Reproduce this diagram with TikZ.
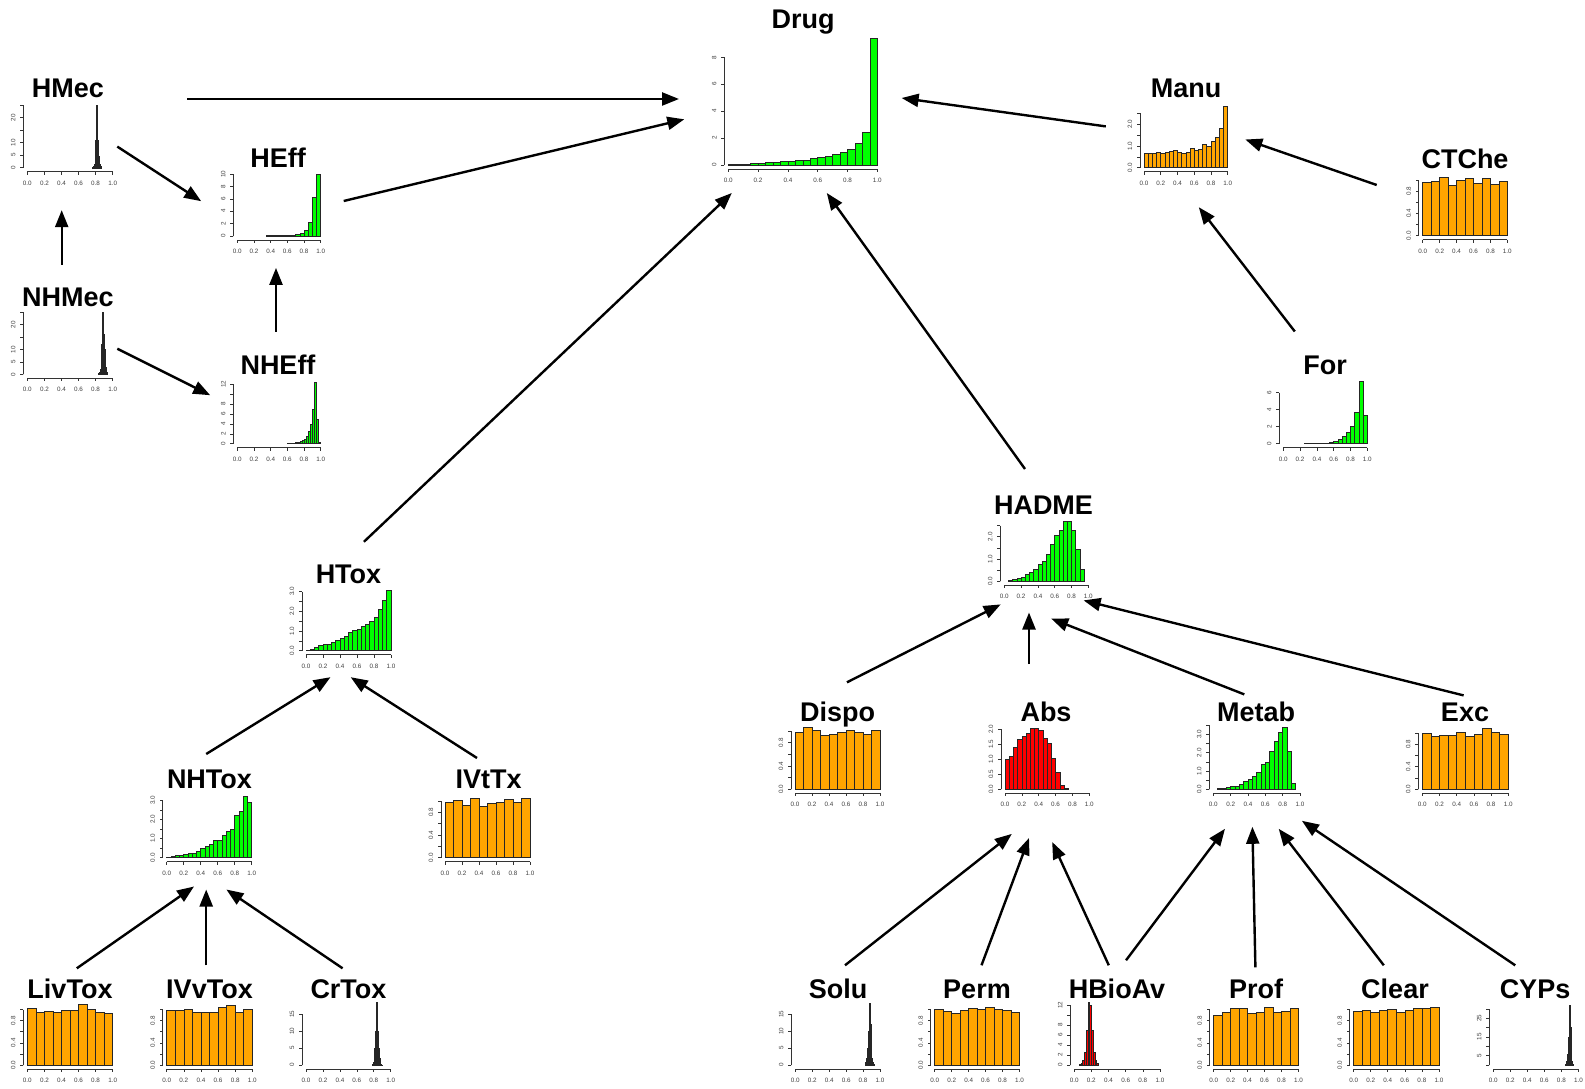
\documentclass[tikz,border=0pt]{standalone}
\usepackage{fontspec}
\setmainfont{Liberation Sans}
\usetikzlibrary{arrows.meta}
\definecolor{rgreen}{HTML}{00FF00}
\definecolor{rorange}{HTML}{FFA500}
\definecolor{rred}{HTML}{FF0000}
\tikzset{
  ttl/.style={font=\fontsize{27}{27}\selectfont\bfseries, inner sep=0pt, anchor=base},
  tick/.style={font=\fontsize{6.3}{6.3}\selectfont, text=black!75, inner sep=0pt},
  axl/.style={draw=black!80, line width=0.6pt},
  bar/.style={draw=black!85},
  conn/.style={line width=2.4pt, -{Triangle[length=17pt,width=13pt]}},
}
\newcommand\hist[9]{%
  \pgfmathsetmacro\hW{#2-#1}%
  \ifdim #7pt<0.015pt \def\blw{0.3pt}\else\def\blw{0.6pt}\fi
  \foreach \hh [count=\hidx from 0] in {#8}{%
    \filldraw[bar, fill=#5, line width=\blw]
      ({#1+(#6+\hidx*#7)*\hW},{#3}) rectangle ({#1+(#6+(\hidx+1)*#7)*\hW},{#3-\hh*#4});
  }%
  \draw[axl] (#1,{#3+4}) -- (#2,{#3+4});
  \foreach \xv/\xl in {0/0.0,0.2/0.2,0.4/0.4,0.6/0.6,0.8/0.8,1/1.0}{%
    \draw[axl] ({#1+\xv*\hW},{#3+4}) -- ++(0,3);
    \node[tick] at ({#1+\xv*\hW},{#3+15.5}) {\xl};
  }%
  \edef\hticks{#9}%
  \foreach \yv/\ylab in \hticks {%
    \draw[axl] ({#1-4},{#3}) -- ({#1-4},{#3-\yv*#4});
    \draw[axl] ({#1-4},{#3-\yv*#4}) -- ++(-3,0);
    \node[tick,rotate=90] at ({#1-14},{#3-\yv*#4}) {\ylab};
  }%
}
\begin{document}
\begin{tikzpicture}[x=1pt,y=-1pt]
\useasboundingbox (0,0) rectangle (1585,1089);
\fill[white] (0,0) rectangle (1585,1089);

% ---------- titles ----------
\node[ttl] (drug)   at (803,29)    {Drug};
\node[ttl] (hmec)   at (68,97.5)   {HMec};
\node[ttl] (heff)   at (278,167.5) {HEff};
\node[ttl] (nhmec)  at (68,306)    {NHMec};
\node[ttl] (nheff)  at (278,374.5) {NHEff};
\node[ttl] (manu)   at (1186,98)   {Manu};
\node[ttl] (ctche)  at (1465,168)  {CTChe};
\node[ttl] (for)    at (1325,374.5){For};
\node[ttl] (hadme)  at (1043.5,514.5){HADME};
\node[ttl] (htox)   at (348.5,583.5){HTox};
\node[ttl] (dispo)  at (837.5,721) {Dispo};
\node[ttl] (abs)    at (1046,721)  {Abs};
\node[ttl] (metab)  at (1256,721)  {Metab};
\node[ttl] (exc)    at (1465,721)  {Exc};
\node[ttl] (nhtox)  at (209.5,788.5){NHTox};
\node[ttl] (ivttx)  at (488.5,788.5){IVtTx};
\node[ttl] (livtox) at (70,998)    {LivTox};
\node[ttl] (ivvtox) at (209.5,998) {IVvTox};
\node[ttl] (crtox)  at (348.5,998) {CrTox};
\node[ttl] (solu)   at (838,998)   {Solu};
\node[ttl] (perm)   at (977,998)   {Perm};
\node[ttl] (hbioav) at (1117,998)  {HBioAv};
\node[ttl] (prof)   at (1256,998)  {Prof};
\node[ttl] (clear)  at (1395,998)  {Clear};
\node[ttl] (cyps)   at (1535,998)  {CYPs};

% ---------- histograms ----------
\hist{728.3}{877.3}{165}{13.46}{rgreen}{0}{0.05}{.02,.05,.08,.12,.16,.2,.22,.25,.28,.32,.38,.48,.55,.68,.82,.98,1.15,1.58,2.4,9.4}{0/0,2/2,4/4,6/6,8/8}
\hist{27.3}{112.7}{167.7}{2.5}{rgreen}{0.76}{0.01}{0.3,0.8,1.5,4.5,11,25,11,4.5,1.5,0.8,0.3}{0/0,5/5,10/10,15/{},20/20,25/{}}
\hist{237.3}{320.7}{236}{6.2}{rgreen}{0.35}{0.05}{.05,.05,.05,.05,.05,.1,.1,.2,.4,.9,2.2,6.2,9.9}{0/0,2/2,4/4,6/6,8/8,10/10}
\hist{27.3}{112.7}{374.3}{2.48}{rgreen}{0.83}{0.01}{0.3,0.8,2,5,12,25,16,10,3,0.8,0.3}{0/0,5/5,10/10,15/{},20/20,25/{}}
\hist{237.3}{320.7}{443.7}{4.94}{rgreen}{0.6}{0.025}{.1,.1,.1,.15,.2,.3,.4,.6,.9,1.5,2.5,4,7,12.5,5,.2}{0/0,2/2,4/4,6/6,8/8,10/{},12/12}
\hist{1144}{1227.7}{167.7}{21.7}{rorange}{0}{0.05}{.68,.68,.65,.72,.65,.72,.76,.8,.72,.65,.72,.9,.82,.86,1.08,1.0,1.2,1.42,1.8,2.85}{0/0.0,0.5/{},1/1.0,1.5/{},2/2.0,2.5/{}}
\hist{1422.7}{1507.3}{235.7}{55.8}{rorange}{0}{0.1}{.96,.98,1.04,.9,1.0,1.03,.94,1.03,.92,.98}{0/0.0,0.2/{},0.4/0.4,0.6/{},0.8/0.8,1/{}}
\hist{1283.3}{1367.3}{443.7}{8.5}{rgreen}{0.25}{0.05}{.05,.05,.05,.05,.05,.1,.15,.3,.5,.9,1.4,2.1,3.7,7.3,3.4}{0/0,2/2,4/4,6/6}
\hist{1004.3}{1088.3}{581.3}{22.3}{rgreen}{0.05}{0.05}{.05,.1,.15,.2,.3,.4,.55,.75,.9,1.2,1.65,2.05,2.3,2.7,2.7,2.3,1.45,.55}{0/0.0,0.5/{},1/1.0,1.5/{},2/2.0,2.5/{}}
\hist{306}{391}{650.7}{19.7}{rgreen}{0}{0.05}{.02,.08,.15,.25,.3,.3,.45,.55,.65,.75,.95,1.05,1.1,1.25,1.35,1.5,1.7,2.1,2.55,3.05}{0/0.0,0.5/{},1/1.0,1.5/{},2/2.0,2.5/{},3/3.0}
\hist{795}{880}{789.3}{58.3}{rorange}{0}{0.1}{.98,1.06,1.02,.93,.95,.97,1.02,.97,.94,1.02}{0/0.0,0.2/{},0.4/0.4,0.6/{},0.8/0.8,1/{}}
\hist{1005}{1089.3}{789.3}{30}{rred}{0}{0.05}{1.0,1.1,1.4,1.67,1.78,1.87,2.03,2.05,1.98,1.7,1.52,1.04,.57,.14,.02}{0/0.0,0.5/0.5,1/1.0,1.5/1.5,2/2.0}
\hist{1213.3}{1300}{789.3}{18.3}{rgreen}{0.05}{0.05}{.03,.05,.1,.15,.15,.3,.45,.55,.7,.95,1.35,1.5,2.1,2.65,3.1,3.4,2.05,.35}{0/0.0,0.5/{},1/1.0,1.5/{},2/2.0,2.5/{},3/3.0,3.5/{}}
\hist{1422.3}{1508.3}{789.3}{56.3}{rorange}{0}{0.1}{.99,.94,.96,.96,1.02,.95,.98,1.08,1.02,.98}{0/0.0,0.2/{},0.4/0.4,0.6/{},0.8/0.8,1/{}}
\hist{166.7}{251.7}{857.7}{19.1}{rgreen}{0}{0.05}{.03,.05,.1,.15,.2,.25,.25,.35,.5,.6,.7,.9,.9,1.15,1.4,1.5,2.2,2.45,3.2,2.9}{0/0.0,0.5/{},1/1.0,1.5/{},2/2.0,2.5/{},3/3.0}
\hist{445}{530}{857.7}{56.7}{rorange}{0}{0.1}{.97,1.01,.93,1.05,.91,.96,.98,1.03,.97,1.04}{0/0.0,0.2/{},0.4/0.4,0.6/{},0.8/0.8,1/{}}
\hist{27.3}{112.7}{1065}{55.4}{rorange}{0}{0.1}{1.02,.96,.97,.96,.98,.99,1.1,1.01,.95,.93}{0/0.0,0.2/{},0.4/0.4,0.6/{},0.8/0.8,1/{}}
\hist{166.7}{252.3}{1065}{55.4}{rorange}{0}{0.1}{.98,.99,1.0,.96,.96,.96,1.05,1.07,.95,1.01}{0/0.0,0.2/{},0.4/0.4,0.6/{},0.8/0.8,1/{}}
\hist{306}{390.7}{1065}{3.38}{rgreen}{0.78}{0.01}{0.3,0.8,2,5,10,18.5,10,5,2,0.8,0.3,0.1}{0/0,5/5,10/10,15/15}
\hist{795.3}{880}{1065}{3.4}{rgreen}{0.82}{0.01}{0.3,0.8,2,5,10,18.3,12,5,2,0.8,0.3}{0/0,5/5,10/10,15/15}
\hist{934.7}{1019.5}{1065}{55.4}{rorange}{0}{0.1}{1.0,.97,.93,.99,1.02,1.0,1.05,1.0,.98,.96}{0/0.0,0.2/{},0.4/0.4,0.6/{},0.8/0.8,1/{}}
\hist{1074.2}{1160}{1065}{5}{rred}{0.06}{0.02}{0.1,0.3,1,2.5,7,12.5,12,7,2.5,1,0.3}{0/0,2/2,4/4,6/6,8/8,10/{},12/12}
\hist{1213.7}{1298.4}{1065}{55.4}{rorange}{0}{0.1}{.9,.96,1.03,1.03,.94,.96,1.04,.95,.97,1.02}{0/0.0,0.2/{},0.4/0.4,0.6/{},0.8/0.8,1/{}}
\hist{1353.7}{1438.9}{1065}{55.4}{rorange}{0}{0.1}{.97,.98,.96,.98,1.0,.95,.99,1.02,1.03,1.05}{0/0.0,0.2/{},0.4/0.4,0.6/{},0.8/0.8,1/{}}
\hist{1493.2}{1578.4}{1065}{1.87}{black}{0.85}{0.01}{0.5,2,6,15,32,20,8,2,0.5}{0/{},5/5,10/{},15/15,20/{},25/25,30/{}}

% ---------- connector end points ----------
\coordinate (hmecOut)  at (187,99);     \coordinate (drugInA) at (679,99);
\coordinate (heffOut)  at (343.7,201);  \coordinate (drugInB) at (684.3,119.3);
\coordinate (htoxOut)  at (363.9,541.8);\coordinate (drugInC) at (731.8,193);
\coordinate (hadmeOut) at (1025,469);   \coordinate (drugInD) at (826.8,193);
\coordinate (manuOut)  at (1105.8,126.4);\coordinate (drugInE) at (901.6,98);
\coordinate (ctcheOut) at (1376.7,185); \coordinate (manuInA) at (1245.3,139.5);
\coordinate (forOut)   at (1294.8,331.5);\coordinate (manuInB) at (1198.8,207.2);
\coordinate (hmecOutB) at (117.3,146.6);\coordinate (heffInA) at (201.2,201.2);
\coordinate (nhmecOutA) at (61.7,264.8);\coordinate (hmecIn) at (61.7,210.2);
\coordinate (nheffOut) at (276,331.5);  \coordinate (heffInB) at (276,267.9);
\coordinate (nhmecOutB) at (117.3,348.7);\coordinate (nheffIn) at (210.2,395.2);
\coordinate (nhtoxOut) at (206.2,754);  \coordinate (htoxInA) at (330.5,677.2);
\coordinate (ivttxOut) at (477,758);    \coordinate (htoxInB) at (350.7,677.2);
\coordinate (livtoxOut) at (76.8,968.3);\coordinate (nhtoxInA) at (194,886.5);
\coordinate (ivvtoxOut) at (206.2,965.3);\coordinate (nhtoxInB) at (206.2,889.5);
\coordinate (crtoxOut) at (342.6,968.3);\coordinate (nhtoxInC) at (226.4,889.5);
\coordinate (dispoOut) at (847,682.3);  \coordinate (hadmeInA) at (1000.7,604.4);
\coordinate (absOut)   at (1029,664);   \coordinate (hadmeInB) at (1029,612.5);
\coordinate (metabOut) at (1244.3,694.4);\coordinate (hadmeInC) at (1051.2,618.6);
\coordinate (excOut)   at (1463.6,695.4);\coordinate (hadmeInD) at (1083.6,600.4);
\coordinate (soluOut)  at (845,965.3);  \coordinate (absInA) at (1011.8,833.9);
\coordinate (permOut)  at (981.5,965.3);\coordinate (absInB) at (1029,838);
\coordinate (hbioOutA) at (1108.8,965.3);\coordinate (absInC) at (1052.2,842);
\coordinate (hbioOutB) at (1126,960.3); \coordinate (metabInA) at (1225,828.8);
\coordinate (profOut)  at (1255.4,967.3);\coordinate (metabInB) at (1252.4,826.8);
\coordinate (clearOut) at (1383.8,965.3);\coordinate (metabInC) at (1278.7,828.8);
\coordinate (cypsOut)  at (1515.2,965.3);\coordinate (metabInD) at (1301.9,820.8);

% ---------- connectors ----------
\draw[conn] (hmecOut) -- (drugInA);
\draw[conn] (heffOut) -- (drugInB);
\draw[conn] (htoxOut) -- (drugInC);
\draw[conn] (hadmeOut) -- (drugInD);
\draw[conn] (manuOut) -- (drugInE);
\draw[conn] (ctcheOut) -- (manuInA);
\draw[conn] (forOut) -- (manuInB);
\draw[conn] (hmecOutB) -- (heffInA);
\draw[conn] (nhmecOutA) -- (hmecIn);
\draw[conn] (nheffOut) -- (heffInB);
\draw[conn] (nhmecOutB) -- (nheffIn);
\draw[conn] (nhtoxOut) -- (htoxInA);
\draw[conn] (ivttxOut) -- (htoxInB);
\draw[conn] (livtoxOut) -- (nhtoxInA);
\draw[conn] (ivvtoxOut) -- (nhtoxInB);
\draw[conn] (crtoxOut) -- (nhtoxInC);
\draw[conn] (dispoOut) -- (hadmeInA);
\draw[conn] (absOut) -- (hadmeInB);
\draw[conn] (metabOut) -- (hadmeInC);
\draw[conn] (excOut) -- (hadmeInD);
\draw[conn] (soluOut) -- (absInA);
\draw[conn] (permOut) -- (absInB);
\draw[conn] (hbioOutA) -- (absInC);
\draw[conn] (hbioOutB) -- (metabInA);
\draw[conn] (profOut) -- (metabInB);
\draw[conn] (clearOut) -- (metabInC);
\draw[conn] (cypsOut) -- (metabInD);
\end{tikzpicture}
\end{document}
